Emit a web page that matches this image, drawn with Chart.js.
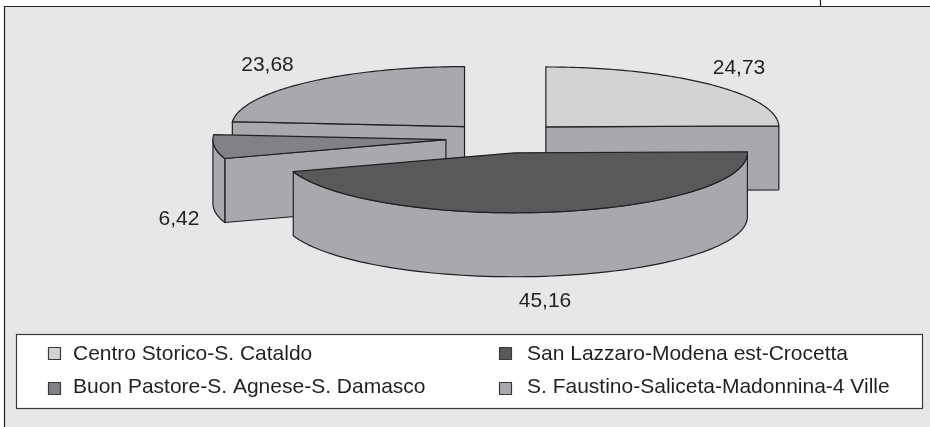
<!DOCTYPE html>
<html>
<head>
<meta charset="utf-8">
<style>html,body{margin:0;padding:0;background:#fff}canvas{display:block}</style>
<script src="https://cdn.jsdelivr.net/npm/chart.js@4"></script>
</head>
<body>
<canvas id="c" width="930" height="427"></canvas>
<script>
const categories = ['Centro Storico-S. Cataldo','San Lazzaro-Modena est-Crocetta','Buon Pastore-S. Agnese-S. Damasco','S. Faustino-Saliceta-Madonnina-4 Ville'];
const values = [24.73,45.16,6.42,23.68];
const valueLabels = ['24,73','45,16','6,42','23,68'];
const colors = ['#d1d3d4','#58595b','#808285','#a7a9ac'];

const SIDE='#a7a9ac', INK='#231f20', BG='#e6e7e8';
const FONT='21px "Liberation Sans", Arial, sans-serif';
const RX=233, RY=60, DEPTH=64, EXPLODE=59, CX=504.5, CY=137.8, K=RY/RX;
const labelPos=[[739,68],[545,301],[179,219],[267.5,65]];
const legendPos=[[48,347],[499,347],[48,382],[499,382]];
const LEGEND_TEXT_DX=[25,28,25,28], LEGEND_TEXT_DY=[7,7,5,5];

function geom(arc){
  const mid=(arc.startAngle+arc.endAngle)/2, r=arc.outerRadius;
  const ex=Math.cos(mid)*EXPLODE, ey=Math.sin(mid)*EXPLODE;
  const ax=arc.x+ex, ay=CY+K*ey;
  return {ax,ay,ex,ey,pt:a=>[ax+r*Math.cos(a),ay+K*r*Math.sin(a)],s:arc.startAngle,e:arc.endAngle};
}
function face(ctx,pts){
  ctx.beginPath();
  pts.forEach((p,i)=>i?ctx.lineTo(p[0],p[1]):ctx.moveTo(p[0],p[1]));
  for(let i=pts.length-1;i>=0;i--)ctx.lineTo(pts[i][0],pts[i][1]+DEPTH);
  ctx.closePath();ctx.fill();ctx.stroke();
}
const pie3d={
  id:'pie3d',
  beforeDraw(chart){
    const c=chart.ctx;
    c.save();
    c.fillStyle='#fff';c.fillRect(0,0,930,427);
    c.fillStyle=BG;c.fillRect(5,7,925,420);
    c.strokeStyle=INK;c.lineWidth=1.2;
    c.beginPath();c.moveTo(4.5,427);c.lineTo(4.5,6.5);c.lineTo(930,6.5);
    c.moveTo(820.5,0);c.lineTo(820.5,6);c.stroke();
    c.fillStyle='#fff';c.strokeStyle='#3a3839';c.lineWidth=1.2;
    c.fillRect(16.5,334.5,906,74);c.strokeRect(16.5,334.5,906,74);
    c.restore();
  },
  beforeDatasetDraw(chart){
    const c=chart.ctx, arcs=chart.getDatasetMeta(0).data;
    // extruded walls, back to front
    c.save();
    c.fillStyle=SIDE;c.strokeStyle=INK;c.lineWidth=1.2;c.lineJoin='round';
    const order=arcs.map(geom).sort((a,b)=>a.ay-b.ay);
    for(const g of order){
      const ps=g.pt(g.s), pe=g.pt(g.e), A=[g.ax,g.ay];
      if(ps[0]<g.ax-0.5)face(c,[A,ps]);
      if(pe[0]>g.ax+0.5)face(c,[pe,A]);
      const lo=Math.max(g.s,0), hi=Math.min(g.e,Math.PI);
      if(hi>lo){
        const wall=[];
        for(let i=0;i<=80;i++)wall.push(g.pt(lo+(hi-lo)*i/80));
        face(c,wall);
      }
    }
    c.restore();
    // top faces: the library's own arc elements, flattened and exploded
    arcs.forEach(arc=>{
      const g=geom(arc);
      c.save();
      c.translate(g.ex,CY+K*g.ey);c.scale(1,K);c.translate(0,-arc.y);
      arc.draw(c);
      c.restore();
    });
    return false;
  },
  afterDatasetsDraw(chart){
    const c=chart.ctx, arcs=chart.getDatasetMeta(0).data;
    c.save();
    c.strokeStyle=INK;c.lineWidth=1.2;c.lineJoin='round';
    arcs.forEach(arc=>{
      const g=geom(arc);
      c.beginPath();c.moveTo(g.ax,g.ay);
      for(let i=0;i<=80;i++){const p=g.pt(g.s+(g.e-g.s)*i/80);c.lineTo(p[0],p[1]);}
      c.closePath();c.stroke();
    });
    c.font=FONT;c.fillStyle=INK;c.textAlign='center';c.textBaseline='middle';
    valueLabels.forEach((t,i)=>c.fillText(t,labelPos[i][0],labelPos[i][1]));
    c.textAlign='left';
    categories.forEach((t,i)=>{
      const [x,y]=legendPos[i];
      c.fillStyle=colors[i];c.strokeStyle='#3a3839';c.lineWidth=1.2;
      c.fillRect(x+.5,y+.5,12,12);c.strokeRect(x+.5,y+.5,12,12);
      c.fillStyle=INK;c.fillText(t,x+LEGEND_TEXT_DX[i],y+LEGEND_TEXT_DY[i]);
    });
    c.restore();
  }
};
new Chart(document.getElementById('c'),{
  type:'pie',
  data:{labels:categories,datasets:[{data:values,backgroundColor:colors,borderWidth:0,hoverOffset:0,clip:false}]},
  options:{
    responsive:false,animation:false,
    radius:RX,
    layout:{padding:{left:2*CX-930}},
    plugins:{legend:{display:false},tooltip:{enabled:false}},
    events:[]
  },
  plugins:[pie3d]
});
</script>
</body>
</html>
